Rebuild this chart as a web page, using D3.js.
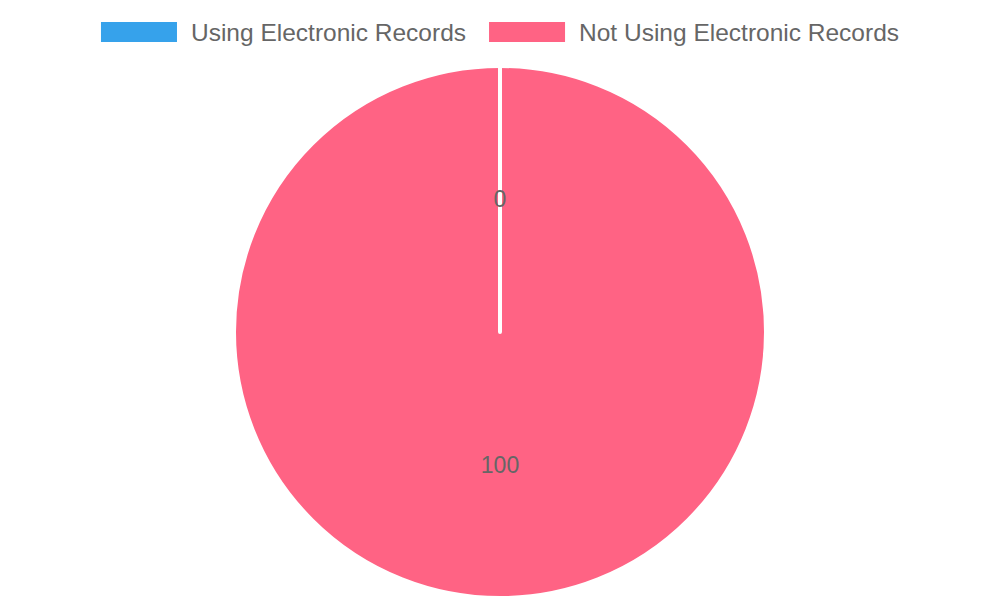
<!DOCTYPE html>
<html>
<head>
<meta charset="utf-8">
<script src="https://cdn.jsdelivr.net/npm/d3@7"></script>
<style>
  body { margin: 0; background: #fff; }
  text { font-family: "Liberation Sans", Arial, sans-serif; fill: #666; }
</style>
</head>
<body>
<svg id="chart" width="1000" height="600"></svg>
<script>
// données du graphique
const categories = ["Using Electronic Records", "Not Using Electronic Records"];
const values = [0, 100];
const colors = ["#36a2eb", "#ff6384"];

const svg = d3.select("#chart");
const width = 1000;
const cx = 500, cy = 332, radius = 266;

// légende centrée en haut
const legend = svg.append("g").attr("class", "legend");
const boxW = 76, boxH = 20, gapText = 14, gapItem = 23;
const items = legend.selectAll("g").data(categories).enter().append("g");
items.append("rect")
  .attr("width", boxW).attr("height", boxH)
  .attr("y", 22)
  .attr("fill", (d, i) => colors[i]);
items.append("text")
  .attr("x", boxW + gapText)
  .attr("y", 40.5)
  .style("font-size", "24.5px")
  .text(d => d);

// on mesure les textes pour centrer
let widths = [];
items.each(function () {
  widths.push(boxW + gapText + this.querySelector("text").getComputedTextLength());
});
const total = d3.sum(widths) + gapItem * (widths.length - 1);
let xPos = (width - total) / 2;
items.attr("transform", (d, i) => {
  const t = "translate(" + xPos + ",0)";
  xPos += widths[i] + gapItem;
  return t;
});

// camembert
const pie = d3.pie().sort(null).value(d => d);
const arc = d3.arc().innerRadius(0).outerRadius(radius);
const labelArc = d3.arc().innerRadius(radius / 2).outerRadius(radius / 2);
const arcs = pie(values);

const g = svg.append("g").attr("transform", "translate(" + cx + "," + cy + ")");
// remplissage des parts
g.selectAll(".slice")
  .data(arcs)
  .enter()
  .append("path")
  .attr("class", "slice")
  .attr("d", arc)
  .attr("fill", (d, i) => colors[i]);

// bordures blanches par-dessus (la part à 0 laisse un trait)
g.selectAll(".edge")
  .data(arcs)
  .enter()
  .append("path")
  .attr("class", "edge")
  .attr("d", arc)
  .attr("fill", "none")
  .attr("stroke", "#fff")
  .attr("stroke-width", 4)
  .attr("stroke-linejoin", "round");

// valeurs sur les parts
g.selectAll(".val")
  .data(arcs)
  .enter()
  .append("text")
  .attr("class", "val")
  .attr("transform", d => "translate(" + labelArc.centroid(d) + ")")
  .attr("text-anchor", "middle")
  .attr("dy", "0.35em")
  .style("font-size", "23px")
  .text(d => d.data);
</script>
</body>
</html>
